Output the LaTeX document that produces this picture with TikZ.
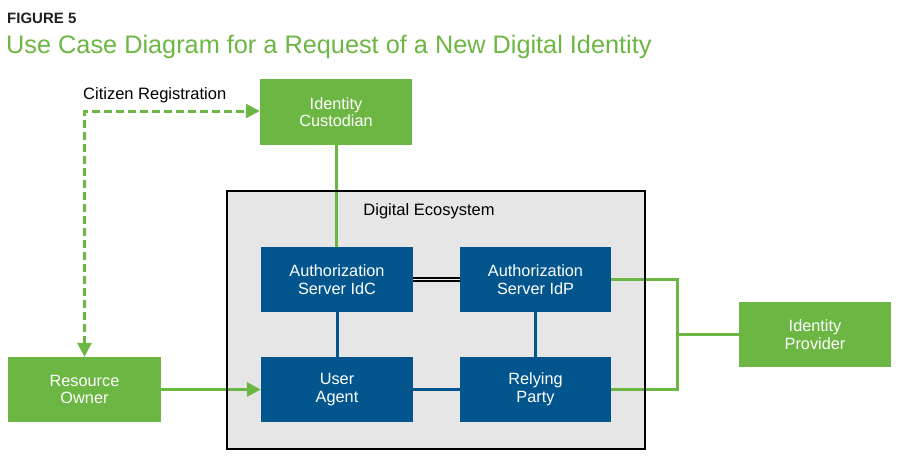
\documentclass[tikz,border=0pt]{standalone}
\usepackage{fontspec}
\setmainfont{Liberation Sans}
\usetikzlibrary{arrows.meta}
\definecolor{gr}{HTML}{6CB643}
\definecolor{bl}{HTML}{03558E}
\definecolor{eco}{HTML}{E6E6E6}
\definecolor{dk}{HTML}{231F20}
\tikzset{
  gbox/.style={fill=gr, draw=none, text=white, minimum width=152pt, minimum height=65pt, inner sep=0pt, align=center, font=\fontsize{16.3}{17.5}\selectfont},
  bbox/.style={fill=bl, draw=none, text=white, minimum width=152pt, minimum height=65pt, inner sep=0pt, align=center, font=\fontsize{16.3}{17.5}\selectfont},
  gline/.style={draw=gr, line width=3pt},
  bline/.style={draw=bl, line width=3pt},
  tip/.style={-{Triangle[length=14pt,width=14pt]}},
}
\begin{document}
\begin{tikzpicture}[x=1pt,y=-1pt]
\useasboundingbox (0,0) rectangle (900,460);
% titles
\node[anchor=west, inner sep=0pt, text=dk, font=\fontsize{15}{17}\selectfont\bfseries] (fig) at (7,18) {FIGURE 5};
\node[anchor=west, inner sep=0pt, text=gr, font=\fontsize{25.3}{28}\selectfont] (title) at (6,47) {Use Case Diagram for a Request of a New Digital Identity};
% ecosystem
\fill[eco] (227,191) rectangle (645,449);
\node[inner sep=0pt, font=\fontsize{16.5}{18}\selectfont] (ecolab) at (429,211) {Digital Ecosystem};
% nodes
\node[gbox] (ic) at (336,112) {Identity\\Custodian};
\node[gbox] (ip) at (815,334.5) {Identity\\Provider};
\node[gbox, minimum width=153pt] (ro) at (84.5,389.5) {Resource\\Owner};
\node[bbox] (idc) at (337,279.5) {Authorization\\Server IdC};
\node[bbox, minimum width=151pt] (idp) at (535.5,279.5) {Authorization\\Server IdP};
\node[bbox] (ua) at (337,389.5) {User\\Agent};
\node[bbox, minimum width=151pt] (rp) at (535.5,389.5) {Relying\\Party};
% label
\node[anchor=west, inner sep=0pt, font=\fontsize{16.5}{18}\selectfont] (cr) at (83,95) {Citizen Registration};
% connectors
\coordinate (dc) at (84.5,111);
\draw[gline, dash pattern=on 8pt off 4pt, {Triangle[length=14pt,width=14pt]}-{Triangle[length=14pt,width=14pt]}] (ro.north) -- (dc) -- (ic.west |- dc);
\draw[gline] (ic.south -| 336,0) -- (idc.north -| 336,0);
\draw[gline, tip] (ro.east) -- (ua.west);
\coordinate (rx) at (677,334.5);
\draw[gline, line join=miter] (idp.east) -| (rx) |- (rp.east);
\draw[gline] (rx) -- (ip.west);
\draw[bline] (idc) -- (ua);
\draw[bline] (idp) -- (rp);
\draw[bline] (ua) -- (rp);
\draw[black, line width=5.5pt] (idc.east) -- (idp.west);
\draw[eco!60!white, line width=1.8pt] (idc.east) -- (idp.west);
% border on top
\draw[black, line width=2pt] (227,191) rectangle (645,449);
\end{tikzpicture}
\end{document}
